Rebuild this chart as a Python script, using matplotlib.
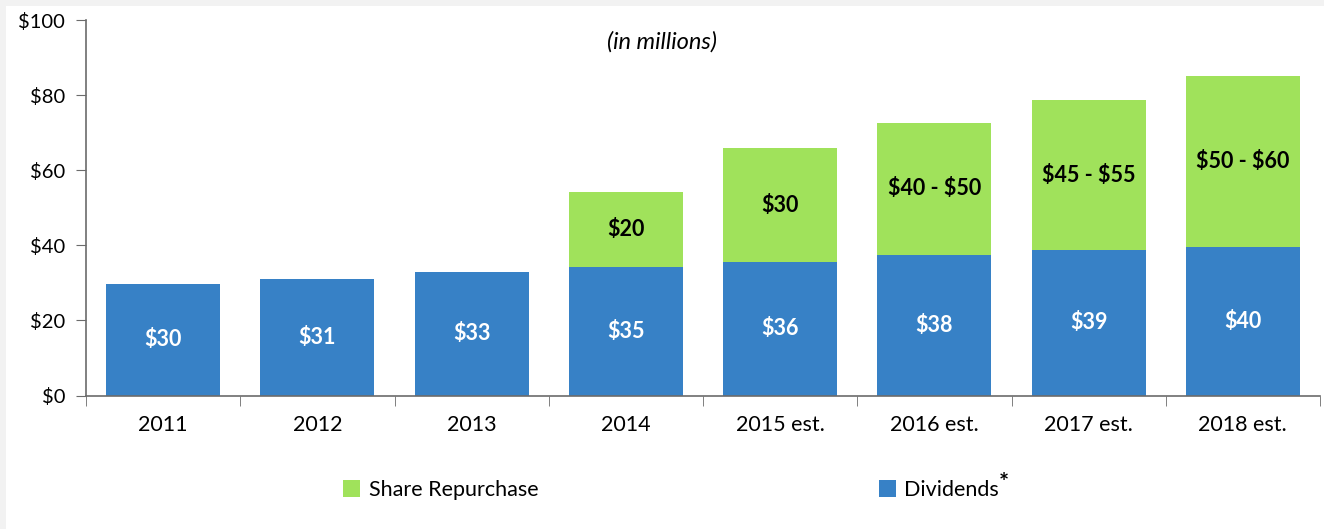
import matplotlib.pyplot as plt
from matplotlib.patches import Rectangle

# data (in $ millions)
years = ["2011", "2012", "2013", "2014", "2015 est.", "2016 est.", "2017 est.", "2018 est."]
dividends = [29.6, 30.9, 32.9, 34.1, 35.6, 37.4, 38.7, 39.5]
repurchase = [0, 0, 0, 20.2, 30.2, 35.3, 39.9, 45.5]
div_labels = ["$30", "$31", "$33", "$35", "$36", "$38", "$39", "$40"]
rep_labels = ["", "", "", "$20", "$30", "$40 - $50", "$45 - $55", "$50 - $60"]
yticks = [0, 20, 40, 60, 80, 100]

blue = "#3781C6"
green = "#A0E25B"
axis_grey = "#6b6b6b"

plt.rcParams["font.family"] = ["Lato", "DejaVu Sans"]
plt.rcParams["text.parse_math"] = False

fig = plt.figure(figsize=(13.24, 5.29), dpi=100, facecolor="#f2f2f2")
# white card with a thin grey edge top/left like the screenshot
fig.patches.append(Rectangle((6 / 1324, 0), 1, 1 - 6 / 529, transform=fig.transFigure,
                             facecolor="white", edgecolor="none", zorder=-1))
ax = fig.add_axes([86 / 1324, 1 - 395.5 / 529, 1234 / 1324, 375.5 / 529])
ax.set_facecolor("none")

x = list(range(len(years)))
b1 = ax.bar(x, dividends, width=0.74, color=blue, label="Dividends")
b2 = ax.bar(x, repurchase, width=0.74, bottom=dividends, color=green, label="Share Repurchase")

for i in x:
    ax.text(i, dividends[i] / 2, div_labels[i], ha="center", va="center",
            color="white", fontsize=15.5, fontweight="bold")
    if rep_labels[i]:
        ax.text(i, dividends[i] + repurchase[i] / 2, rep_labels[i], ha="center", va="center",
                color="black", fontsize=15.5, fontweight="bold")

ax.text(0.467, 0.941, "(in millions)", transform=ax.transAxes,
        ha="center", va="center", fontsize=17, style="italic")

ax.set_xlim(-0.5, 7.5)
ax.set_ylim(0, 100)
ax.set_yticks(yticks)
ax.set_yticklabels(["$" + str(v) for v in yticks], fontsize=14.5)
ax.set_xticks(x)
ax.set_xticklabels(years, fontsize=15.5)
ax.set_xticks([i - 0.5 for i in range(len(years) + 1)], minor=True)
ax.tick_params(axis="x", which="major", length=0, pad=14)
ax.tick_params(axis="x", which="minor", length=7, color=axis_grey, direction="out")
ax.tick_params(axis="y", length=7, color=axis_grey, pad=8)

for s in ["top", "right"]:
    ax.spines[s].set_visible(False)
for s in ["left", "bottom"]:
    ax.spines[s].set_color(axis_grey)
    ax.spines[s].set_linewidth(1.2)

leg = fig.legend([b2, b1], ["Share Repurchase", "Dividends"], loc="center left",
                 bbox_to_anchor=(343 / 1324, 1 - 490 / 529), ncol=2, frameon=False, fontsize=15.5,
                 handlelength=0.8, handleheight=0.8, handletextpad=0.4, columnspacing=15.8,
                 borderpad=0, borderaxespad=0)
fig.text(999 / 1324, 1 - 483 / 529, "*", fontsize=17, fontweight="bold", ha="left", va="center")

fig.savefig("out.png", dpi=100, facecolor=fig.get_facecolor())
